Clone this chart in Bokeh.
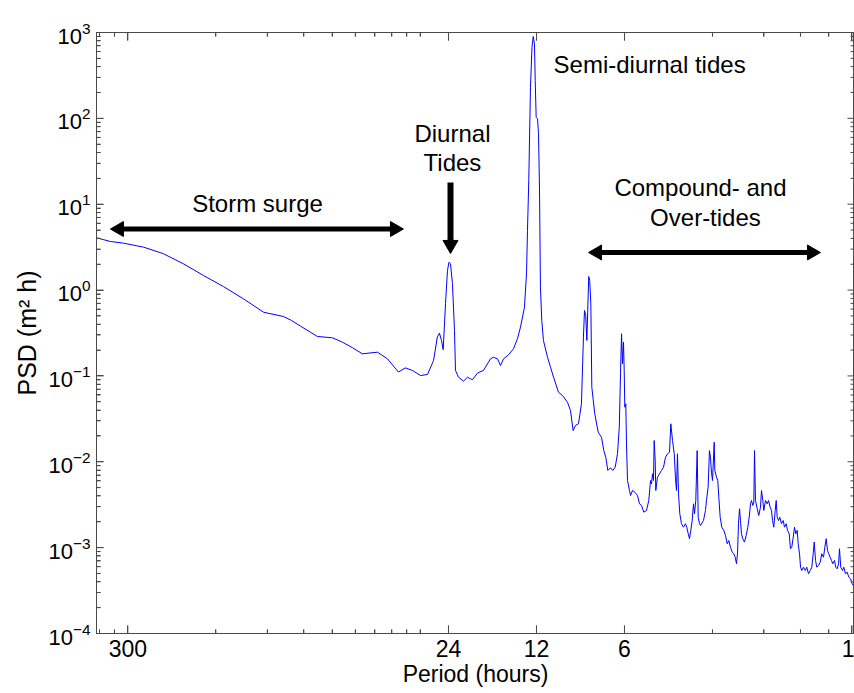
import math
from bokeh.plotting import figure
from bokeh.models import Range1d, FixedTicker, BasicTickFormatter, ColumnDataSource, LogAxis
from bokeh.core.properties import value
from bokeh.embed import file_html
from bokeh.resources import INLINE

# ---------------- data (period in hours, PSD in m^2 h) ----------------
period_surge = [384, 344, 310.6, 265, 226.6, 193.5, 165.4, 141.3, 120.7, 103.0,
                88.0, 82.6, 77.0, 71.2, 67.4, 59.8, 55.3, 51.1, 47.3, 42.0,
                38.8, 35.6, 33.7, 31.9, 29.9, 28.3, 27.0]
psd_surge = [4.06, 3.68, 3.52, 3.16, 2.65, 2.02, 1.48, 1.10, 0.791, 0.552,
             0.492, 0.442, 0.380, 0.323, 0.288, 0.278, 0.247, 0.213, 0.181, 0.189,
             0.158, 0.111, 0.124, 0.116, 0.101, 0.104, 0.151]

period_diurnal = [26.2, 25.77, 25.36, 25.02, 24.57, 24.19, 23.91, 23.62, 23.26, 22.89,
                  22.71, 22.18, 21.33, 20.66, 20.18, 19.87, 19.10, 18.22, 17.24, 16.84,
                  16.31, 15.93, 15.56, 14.96, 14.38, 13.94, 13.61, 13.19, 12.98]
psd_diurnal = [0.283, 0.315, 0.259, 0.202, 0.698, 1.69, 2.11, 2.02, 1.19, 0.338,
               0.116, 0.0967, 0.0869, 0.0967, 0.0926, 0.0902, 0.108, 0.116, 0.158, 0.165,
               0.158, 0.132, 0.158, 0.176, 0.207, 0.271, 0.370, 0.632, 1.55]

period_semidiurnal = [12.88, 12.75, 12.58, 12.43, 12.31, 12.19, 12.12, 12.03, 11.90, 11.81,
                      11.72, 11.63, 11.51, 11.36, 11.00, 10.74, 10.49, 10.09, 9.78, 9.40,
                      9.18, 8.99, 8.82, 8.62, 8.42]
psd_semidiurnal = [4.94, 18.9, 231, 674, 898, 738, 276, 103, 98.8, 66.1,
                   15.8, 1.08, 0.442, 0.259, 0.165, 0.126, 0.0967, 0.0646, 0.0592, 0.0494,
                   0.0396, 0.0231, 0.0265, 0.0277, 0.0474]

period_overtides = [8.29, 8.22, 8.14, 8.07, 7.95, 7.89, 7.82, 7.76, 7.58, 7.38,
                    7.19, 7.06, 6.95, 6.84, 6.70, 6.58, 6.455, 6.34, 6.25, 6.19,
                    6.14, 6.094, 6.046, 6.013, 5.984, 5.937, 5.905, 5.858, 5.767, 5.721,
                    5.632, 5.530, 5.414, 5.330, 5.246, 5.153, 5.044, 4.954, 4.887, 4.849,
                    4.811, 4.774, 4.748, 4.710, 4.688, 4.626, 4.553, 4.482, 4.411, 4.343,
                    4.275, 4.208, 4.165, 4.110, 4.054, 4.014, 3.983, 3.952, 3.920, 3.880,
                    3.829, 3.769, 3.710, 3.672, 3.631, 3.595, 3.558, 3.520, 3.483, 3.456,
                    3.421, 3.384, 3.357, 3.323, 3.297, 3.220, 3.170, 3.145, 3.104, 3.072,
                    3.048, 3.024, 2.999, 2.959, 2.945, 2.906, 2.877, 2.854, 2.823, 2.787,
                    2.744, 2.707, 2.671, 2.638, 2.603, 2.568, 2.536, 2.508, 2.483, 2.463,
                    2.444, 2.424, 2.406, 2.387, 2.363, 2.331, 2.300, 2.271, 2.246, 2.223,
                    2.206, 2.183, 2.166, 2.154, 2.138, 2.109, 2.083, 2.055, 2.039, 2.018,
                    2.002, 1.976, 1.949, 1.929, 1.904, 1.885, 1.869, 1.851, 1.830, 1.816,
                    1.802, 1.783, 1.765, 1.742, 1.718, 1.701, 1.678, 1.661, 1.639, 1.623,
                    1.606, 1.588, 1.572, 1.556, 1.539, 1.527, 1.511, 1.499, 1.484, 1.465,
                    1.445, 1.427, 1.408, 1.389, 1.372, 1.357, 1.346, 1.332, 1.319, 1.301,
                    1.284, 1.268, 1.251, 1.238, 1.225, 1.212, 1.200, 1.187, 1.175, 1.163,
                    1.147, 1.136, 1.123, 1.111, 1.103, 1.092, 1.077, 1.066, 1.052, 1.038,
                    1.025, 1.011, 0.998, 0.988]
psd_overtides = [0.283, 0.578, 0.506, 0.259, 1.44, 1.29, 0.692, 0.0739, 0.0362, 0.0221,
                 0.0193, 0.0135, 0.0113, 0.00792, 0.00851, 0.00792, 0.00865, 0.0124, 0.0253, 0.106,
                 0.310, 0.139, 0.247, 0.116, 0.0432, 0.0474, 0.0162, 0.00605, 0.00463, 0.00405,
                 0.00463, 0.00442, 0.00405, 0.00324, 0.00310, 0.00259, 0.00271, 0.00354, 0.00605, 0.00554,
                 0.00725, 0.00605, 0.0177, 0.0104, 0.00463, 0.00662, 0.00725, 0.00792, 0.00865, 0.0113,
                 0.0124, 0.0129, 0.0277, 0.0177, 0.0124, 0.00634, 0.00463, 0.0124, 0.00424, 0.00248,
                 0.00190, 0.00173, 0.00190, 0.00173, 0.00145, 0.00127, 0.00159, 0.00207, 0.00324, 0.00248,
                 0.00354, 0.0135, 0.00226, 0.00190, 0.00181, 0.00207, 0.00271, 0.00354, 0.00506, 0.0135,
                 0.0113, 0.00757, 0.00605, 0.0169, 0.00792, 0.00662, 0.00605, 0.00387, 0.00226, 0.00173,
                 0.00159, 0.00139, 0.00111, 0.00121, 0.00101, 0.000885, 0.000848, 0.000774, 0.000649, 0.000848,
                 0.00190, 0.00284, 0.00207, 0.00145, 0.00127, 0.00116, 0.00139, 0.00173, 0.00226, 0.00324,
                 0.00354, 0.00310, 0.00338, 0.0135, 0.00354, 0.00284, 0.00237, 0.00296, 0.00463, 0.00354,
                 0.00271, 0.00354, 0.00324, 0.00354, 0.00296, 0.00271, 0.00207, 0.00173, 0.00271, 0.00354,
                 0.00226, 0.00207, 0.00226, 0.00190, 0.00207, 0.00173, 0.00190, 0.00159, 0.00145, 0.000970,
                 0.00101, 0.00132, 0.00173, 0.00145, 0.00159, 0.00111, 0.000848, 0.000592, 0.000542, 0.000592,
                 0.000542, 0.000592, 0.000496, 0.000542, 0.000592, 0.000848, 0.00116, 0.000709, 0.000592, 0.000620,
                 0.000677, 0.000848, 0.000774, 0.00101, 0.00127, 0.000927, 0.000848, 0.000774, 0.000709, 0.000649,
                 0.000709, 0.000592, 0.000567, 0.000649, 0.000970, 0.000592, 0.000542, 0.000592, 0.000496, 0.000518,
                 0.000453, 0.000434, 0.000379, 0.000362]

x_major_ticks = [300, 24, 12, 6, 1]
x_minor_ticks = [375, 333.33, 150, 100, 75, 60, 50, 42.857, 37.5, 33.333, 30, 3, 2, 1.5, 1.2]
y_major_ticks = [1e-4, 1e-3, 1e-2, 1e-1, 1e0, 1e1, 1e2, 1e3]

x_label = "Period (hours)"
y_label = "PSD (m\u00b2 h)"

annotation_texts = ["Storm surge", "Diurnal", "Tides", "Compound- and", "Over-tides"]

# ---------------- figure ----------------
FONT = "Liberation Sans"
AXIS_COLOR = "#4a4a4a"
X_LO, X_HI = 384, 0.980
Y_LO, Y_HI = 1e-4, 1e3

period = period_surge + period_diurnal + period_semidiurnal + period_overtides
psd = psd_surge + psd_diurnal + psd_semidiurnal + psd_overtides
src = ColumnDataSource(dict(period=period, psd=psd))

p = figure(width=854, height=693, x_axis_type="log", y_axis_type="log",
           x_range=Range1d(X_LO, X_HI), y_range=Range1d(Y_LO, Y_HI),
           output_backend="svg", toolbar_location=None,
           min_border_left=96, min_border_right=0, min_border_top=32, min_border_bottom=60,
           outline_line_color=AXIS_COLOR, outline_line_width=1)
p.xgrid.grid_line_color = None
p.ygrid.grid_line_color = None

p.line("period", "psd", source=src, line_color="#0000ff", line_width=1)

y_minor_ticks = [k * 10.0 ** e for e in range(-4, 3) for k in range(2, 10)]
x_ticker = FixedTicker(ticks=x_major_ticks, minor_ticks=x_minor_ticks)
y_ticker = FixedTicker(ticks=y_major_ticks, minor_ticks=y_minor_ticks)

# inward tick marks on all four frame edges (half of each dash is clipped by the frame)
for ticks, size in ((x_major_ticks, 16), (x_minor_ticks, 8)):
    for edge in (Y_LO, Y_HI):
        p.scatter(ticks, [edge] * len(ticks), marker="dash", size=size,
                  angle=math.pi / 2, line_color=AXIS_COLOR, line_width=1)
for ticks, size in ((y_major_ticks, 14), (y_minor_ticks, 8)):
    for edge in (X_LO, X_HI):
        p.scatter([edge] * len(ticks), ticks, marker="dash", size=size,
                  line_color=AXIS_COLOR, line_width=1)


def style(ax, size, major_in, minor_in):
    ax.axis_line_color = AXIS_COLOR
    ax.major_tick_in = major_in
    ax.major_tick_out = 0
    ax.minor_tick_in = minor_in
    ax.minor_tick_out = 0
    ax.major_tick_line_color = AXIS_COLOR
    ax.minor_tick_line_color = AXIS_COLOR
    ax.major_label_text_font = FONT
    ax.major_label_text_color = "black"
    ax.major_label_text_font_size = size


xb = p.xaxis[0]
xb.ticker = x_ticker
xb.formatter = BasicTickFormatter()
style(xb, "23px", 8, 4)
xb.major_label_standoff = 6
xb.axis_label = x_label
xb.axis_label_text_font = FONT
xb.axis_label_text_font_style = "normal"
xb.axis_label_text_font_size = "23px"
xb.axis_label_text_color = "black"
xb.axis_label_standoff = 1

yl = p.yaxis[0]
yl.ticker = y_ticker
style(yl, "22px", 7, 4)
yl.major_label_standoff = 6
yl.axis_label = y_label
yl.axis_label_text_font = FONT
yl.axis_label_text_font_style = "normal"
yl.axis_label_text_font_size = "25px"
yl.axis_label_text_color = "black"
yl.axis_label_standoff = 4

# top frame edge with inward ticks, no labels
xt = LogAxis(ticker=x_ticker, formatter=BasicTickFormatter())
style(xt, "10px", 8, 4)
xt.major_label_text_color = None
xt.major_label_standoff = 0
p.add_layout(xt, "above")

# ---------------- annotations (text glyphs, vertically centred) ----------------
p.text(x=[108, 23.26, 23.26, 3.297, 3.17], y=[10.3, 66.5, 30.6, 15.6, 7.0],
       text=annotation_texts, text_align="center", text_baseline="middle",
       text_font=value(FONT), text_font_size="24px", text_color="black")
p.text(x=[10.49], y=[423], text=["Semi-diurnal tides"], text_align="left",
       text_baseline="middle", text_font=value(FONT), text_font_size="24px",
       text_color="black")

# arrows: shafts as segments, heads as filled triangles
p.segment(x0=[323, 7.48], y0=[5.14, 2.74], x1=[36.4, 1.364], y1=[5.14, 2.74],
          line_width=5, line_color="black")
p.segment(x0=[23.62], y0=[17.9], x1=[23.62], y1=[3.30],
          line_width=6, line_color="black")
p.scatter(x=[321.4, 7.437], y=[5.14, 2.74], marker="triangle", size=15,
          angle=math.pi / 2, fill_color="black", line_color="black")
p.scatter(x=[36.64, 1.372], y=[5.14, 2.74], marker="triangle", size=15,
          angle=-math.pi / 2, fill_color="black", line_color="black")
p.scatter(x=[23.62], y=[3.37], marker="inverted_triangle", size=15,
          fill_color="black", line_color="black")

open("out.html", "w").write(file_html(p, INLINE))
